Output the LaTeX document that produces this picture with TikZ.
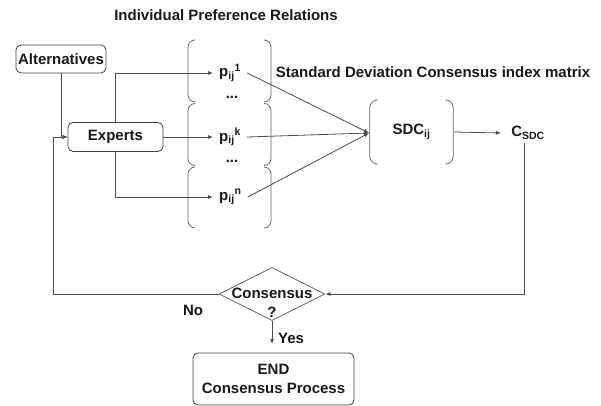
\documentclass[tikz,border=0pt]{standalone}
\usepackage{fontspec}
\setmainfont{Liberation Sans}
\usetikzlibrary{shapes.geometric,arrows.meta}
\begin{document}
\begin{tikzpicture}[x=1pt,y=-1pt,
 every node/.style={font=\fontsize{15}{19}\selectfont\bfseries, text=black!90},
 box/.style={draw=black!75, rounded corners=5pt, line width=0.8pt, inner sep=0pt},
 conn/.style={draw=black!70, line width=0.8pt},
 arr/.style={conn, -{Latex[length=5pt,width=4pt]}},
 brk/.style={draw=black!60, line width=0.8pt, rounded corners=7pt},
 pnode/.style={inner xsep=6pt, inner ysep=2pt, anchor=west},
]
\useasboundingbox (0,0) rectangle (601,406);

% texts
\node (title) at (226,15) {Individual Preference Relations};
\node (sdct) at (433,72) {Standard Deviation Consensus index matrix};

% boxes
\node[box, minimum width=90pt, minimum height=28pt] (alt) at (61,59) {Alternatives};
\node[box, minimum width=95pt, minimum height=29pt] (exp) at (115.5,137) {Experts};

% preference relations
\node[pnode] (p1) at (213,73) {p\textsubscript{ij}\textsuperscript{1}};
\node[pnode] (pk) at (213,137) {p\textsubscript{ij}\textsuperscript{k}};
\node[pnode] (pn) at (213,197) {p\textsubscript{ij}\textsuperscript{n}};
\node (d1) at (232,97) {...};
\node (d2) at (232,161) {...};

% brackets of preference relations
\foreach \a/\b in {40/102,103.5/165.5,167/228}{
  \draw[brk] (195,\a) -- (188,\a) -- (188,\b) -- (195,\b);
  \draw[brk] (264,\a) -- (271,\a) -- (271,\b) -- (264,\b);
}

% SDC
\node[minimum width=83pt, minimum height=64pt, inner sep=0pt] (sdc) at (411.5,132) {SDC\textsubscript{ij}};
\draw[brk, rounded corners=8pt] ([xshift=8pt]sdc.north west) -- (sdc.north west) -- (sdc.south west) -- ([xshift=8pt]sdc.south west);
\draw[brk, rounded corners=8pt] ([xshift=-8pt]sdc.north east) -- (sdc.north east) -- (sdc.south east) -- ([xshift=-8pt]sdc.south east);
\coordinate (conv) at (369,133);

\node[inner xsep=2pt] (csdc) at (528,133) {C\textsubscript{SDC}};

% decision
\node[draw=black!60, line width=0.8pt, diamond, aspect=2, minimum width=106pt, minimum height=53pt, inner sep=0pt] (dec) at (272,294) {};
\node (cons) at (272,293) {Consensus};
\node (q) at (272,312) {?};
\node (no) at (193,310) {No};
\node (yes) at (291,338) {Yes};

\node[box, minimum width=161pt, minimum height=52pt, align=center] (endb) at (273.5,379) {END\\Consensus Process};

% connectors
\draw[arr] (alt.south) |- (exp.west);
\draw[arr] (exp.north) |- (p1.west);
\draw[arr] (exp.east) -- (pk.west);
\draw[arr] (exp.south) |- (pn.west);
\draw[arr] (p1.east) -- (conv);
\draw[arr] (pk.east) -- (conv);
\draw[arr] (pn.east) -- (conv);
\draw[arr] ([xshift=1pt]sdc.east) -- ([xshift=-8pt]csdc.west);
\coordinate (cdown) at (524,294);
\draw[arr] ([xshift=-4pt]csdc.south) -- (cdown) -- (dec.east);
\coordinate (fb) at (53,294);
\draw[arr] (dec.west) -- (fb) |- (exp.west);
\coordinate (yesend) at (272,344);
\draw[arr] (dec.south) -- (yesend);
\end{tikzpicture}
\end{document}
